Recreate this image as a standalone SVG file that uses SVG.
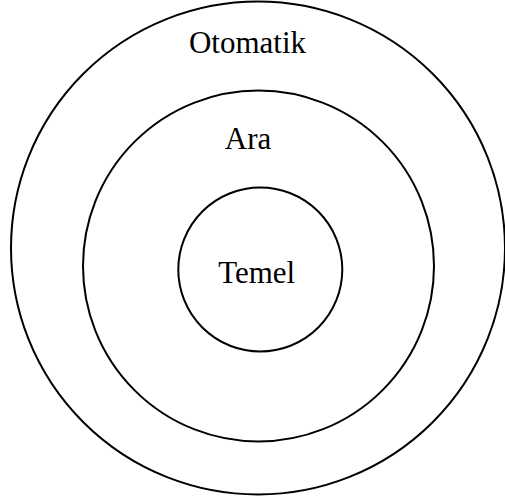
<svg xmlns="http://www.w3.org/2000/svg" width="505" height="504" viewBox="0 0 505 504">
<style>
.ring{fill:none;stroke:#000;stroke-width:2}
.lbl{font-family:"Liberation Serif","Times New Roman",serif;font-size:31px;fill:#000;text-anchor:middle}
</style>
<rect width="505" height="504" fill="#fff"/>
<g id="otomatik">
<ellipse class="ring" cx="258" cy="248" rx="247" ry="246.5"/>
<text class="lbl" x="247.5" y="53">Otomatik</text>
</g>
<g id="ara">
<circle class="ring" cx="258.5" cy="266" r="175.5"/>
<text class="lbl" x="248" y="149">Ara</text>
</g>
<g id="temel">
<circle class="ring" cx="260.3" cy="269.5" r="82"/>
<text class="lbl" x="256.7" y="282.5">Temel</text>
</g>
<g id="connectors"/>
</svg>
